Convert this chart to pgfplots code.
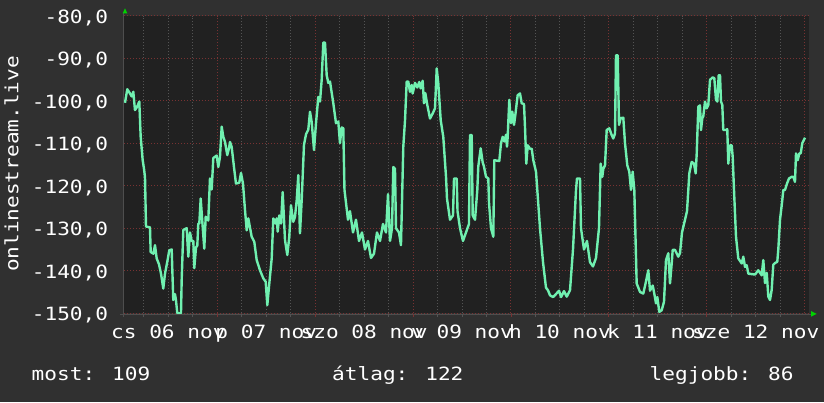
\documentclass[border=0pt]{standalone}
\usepackage{pgfplots}
\pgfplotsset{compat=1.18}
\usepackage{fontspec}
\newfontfamily\rrd[FakeStretch=1.156]{DejaVu Sans Mono}
\newcommand\rrdfont{\rrd\fontsize{18.25pt}{21pt}\selectfont}
\definecolor{bgc}{RGB}{48,48,48}
\definecolor{canvasc}{RGB}{33,33,33}
\definecolor{gridc}{RGB}{84,84,84}
\definecolor{mgridc}{RGB}{120,50,50}
\definecolor{linec}{RGB}{112,240,176}
\definecolor{arrowc}{RGB}{0,210,0}
\definecolor{axisc}{RGB}{78,78,78}

\begin{document}
\begin{tikzpicture}[x=1pt,y=1pt]
\fill[bgc] (0,0) rectangle (824,402);
\begin{axis}[
    at={(124pt,88.8pt)}, anchor=south west,
    scale only axis, width=685.3pt, height=297.5pt,
    xmin=1.13, xmax=169.13, ymin=-150, ymax=-80,
    axis background/.style={fill=canvasc},
    axis line style={draw=none},
    major tick length=0pt, minor tick length=0pt,
    every tick label/.append style={font=\rrdfont, text=white, inner sep=0pt},
    % day labels sit at noon, red lines at midnight
    xtick={12,36,60,84,108,132,156},
    xticklabels={cs 06 nov, p 07 nov, szo 08 nov, v 09 nov, h 10 nov, k 11 nov, sze 12 nov},
    xticklabel style={anchor=base, yshift=-25.1pt},
    minor xtick={6,18,30,42,54,66,78,90,102,114,126,138,150,162},
    extra x ticks={24,48,72,96,120,144,168},
    extra x tick labels={{},{},{},{},{},{},{}},
    extra x tick style={grid=major, major grid style={mgridc}},
    ytick=\empty,
    minor ytick={-148,-146,-144,-142,-138,-136,-134,-132,-128,-126,-124,-122,
                 -118,-116,-114,-112,-108,-106,-104,-102,-98,-96,-94,-92,-88,-86,-84,-82},
    extra y ticks={-150,-140,-130,-120,-110,-100,-90,-80},
    extra y tick labels={{-150,0},{-140,0},{-130,0},{-120,0},{-110,0},{-100,0},{-90,0},{-80,0}},
    extra y tick style={grid=major, major grid style={mgridc}},
    yticklabel style={anchor=base east, xshift=-15.7pt, yshift=-7.6pt},
    grid=both,
    grid style={gridc, line width=1pt, dash pattern=on 1pt off 2pt},
]
\addplot[color=linec, line width=2.4pt, line join=round] coordinates {
(1.37,-100.5)(1.94,-97.3)(2.60,-98.3)(3.02,-99.0)(3.41,-97.9)(3.82,-102.2)(4.31,-101.5)(4.88,-100.2)
(5.22,-108.5)(5.71,-114.0)(6.03,-116)(6.28,-118)(6.52,-129.6)(7.50,-129.8)(7.67,-135.6)(8.31,-136.0)
(8.73,-134.0)(9.14,-137.1)(9.71,-138.5)(10.20,-140.7)(10.76,-144.2)(11.18,-140.7)(11.74,-137.9)
(12.23,-135.2)(12.82,-135.0)(13.21,-146.9)(13.63,-145.5)(13.88,-147)(14.19,-150.0)(15.10,-150.0)
(15.27,-142.2)(15.67,-130.4)(16.50,-130.0)(16.89,-136.7)(17.31,-131)(17.72,-133)(18.12,-133)
(18.36,-139.4)(18.78,-134.5)(19.10,-134.1)(19.34,-128.9)(19.59,-128.9)(19.93,-123.0)(20.42,-129.7)
(20.81,-134.8)(21.16,-127.3)(21.79,-128.2)(22.21,-118.3)(22.63,-120.9)(23.02,-113.5)(23.44,-113.2)
(23.85,-112.9)(24.25,-115.6)(24.66,-113.2)(25.08,-106.1)(25.47,-108.5)(25.89,-109.7)(26.45,-112.8)
(26.87,-111.2)(27.11,-109.7)(27.53,-110.9)(28.09,-115.6)(28.58,-119.5)(29.39,-119.3)(29.81,-117.0)
(30.30,-119.5)(30.79,-125.7)(31.21,-130.5)(31.60,-127.7)(32.43,-132.0)(33.07,-133.2)(33.66,-137.5)
(34.47,-139.9)(35.28,-141.8)(35.87,-142.6)(36.26,-148.1)(36.75,-143.0)(37.34,-137.1)(37.73,-127.7)
(38.32,-128.9)(38.56,-127.7)(38.81,-130.8)(39.20,-127.0)(39.62,-128.9)(40.03,-121.5)(40.60,-132.8)
(41.16,-136.3)(41.65,-132.0)(42.07,-124.6)(42.63,-128.5)(43.05,-127.3)(43.47,-123.4)(43.86,-117.5)
(44.27,-131.2)(44.69,-123.4)(45.01,-116)(45.25,-110.4)(45.75,-107.9)(46.31,-106.8)(46.73,-102.6)
(47.14,-105)(47.71,-111.6)(48.20,-105.3)(48.76,-99.1)(49.18,-100.2)(49.59,-95.1)(49.99,-86.3)
(50.40,-86.3)(50.82,-94.0)(51.21,-95.8)(51.63,-95.5)(52.44,-100.6)(53.10,-105.3)(53.66,-104.9)
(54.08,-110.0)(54.50,-106.3)(54.89,-106.5)(55.18,-121)(55.55,-124)(56.04,-128)(56.53,-126)
(57.27,-131)(58.00,-128)(58.74,-133)(59.47,-131)(60.21,-135)(60.94,-133)(61.68,-137)(62.41,-136)
(63.15,-131)(63.89,-133)(64.62,-129)(65.36,-131)(65.85,-122)(66.34,-133)(66.83,-130)(67.15,-115.6)
(67.56,-116)(67.81,-130)(68.54,-131)(69.03,-134)(69.60,-110.8)(70.02,-104.6)(70.43,-95.5)
(70.82,-95.5)(71.24,-97.9)(71.66,-96.3)(71.90,-98.3)(72.47,-95.8)(73.03,-96.9)(73.52,-95.6)
(73.86,-97.1)(74.35,-95.3)(74.67,-100.6)(74.99,-98.2)(75.48,-101.0)(75.82,-102.6)(76.14,-104.2)
(76.81,-103.0)(77.37,-101.8)(77.79,-92.4)(78.18,-95.9)(78.77,-104.6)(79.40,-108.5)(80.07,-117.9)
(80.31,-123)(81.05,-128)(81.78,-127)(82.03,-118.3)(82.69,-118.3)(82.89,-126)(83.50,-130)
(84.23,-133)(84.97,-131)(85.70,-129)(85.95,-108.1)(86.37,-108.1)(86.61,-127)(87.18,-128)
(87.74,-121)(87.98,-115.5)(88.57,-111.2)(89.06,-114.5)(89.38,-115.5)(89.87,-117.9)(90.44,-118.3)
(90.61,-124)(91.10,-130)(91.66,-132)(91.91,-114.0)(93.13,-114.2)(93.55,-110.0)(93.97,-108.5)
(94.36,-109.6)(94.78,-108.0)(95.02,-110.8)(95.19,-108.5)(95.58,-99.8)(96.00,-105.3)(96.32,-102.6)
(96.74,-105.7)(97.06,-103.4)(97.40,-100.6)(97.64,-98.7)(98.21,-98.3)(98.62,-100.6)(99.19,-100.8)
(99.43,-106.1)(99.75,-114.8)(100.10,-110.5)(100.66,-111.3)(101.08,-111.3)(101.47,-114.0)
(102.13,-116.7)(102.45,-121)(103.11,-130)(103.85,-138)(104.58,-144)(105.07,-144.6)(105.56,-145.8)
(106.30,-146.2)(107.03,-145.5)(107.77,-144.7)(108.26,-146.2)(108.99,-144.8)(109.66,-146.1)
(110.47,-144.6)(111.20,-135)(111.94,-121)(112.18,-118.3)(112.92,-118.3)(113.16,-130)(113.90,-135)
(114.63,-133)(115.37,-138)(116.10,-139)(116.84,-137)(117.57,-130)(117.99,-114.8)(118.38,-117.9)
(118.63,-116)(119.05,-115.2)(119.46,-106.9)(120.10,-106.5)(120.69,-108.1)(121.08,-108.9)
(121.50,-107.7)(121.74,-89.3)(122.16,-89.3)(122.48,-105.7)(122.89,-104.1)(123.53,-104.0)
(123.95,-110.0)(124.51,-115.2)(125.00,-116.7)(125.42,-121)(125.83,-116.7)(126.23,-121)
(126.81,-143.0)(127.63,-145.0)(128.43,-145.4)(129.10,-142.5)(129.66,-139.9)(130.08,-144.7)
(130.74,-143.5)(131.13,-145.4)(131.55,-147.7)(131.87,-146.2)(132.36,-149.7)(132.95,-149.3)
(133.51,-147.3)(134.00,-137.5)(134.56,-135.9)(134.98,-143.0)(135.40,-138.3)(135.64,-135.1)
(136.20,-135.1)(137.01,-136.7)(137.43,-135.9)(137.92,-131)(138.66,-128)(139.15,-126)(139.47,-121)
(139.71,-117.1)(140.30,-114.4)(140.86,-114.8)(141.28,-117.1)(141.53,-112.4)(141.92,-101.4)
(142.33,-101.1)(142.58,-106.9)(142.90,-104.1)(143.14,-103.7)(143.56,-100.2)(143.98,-101.8)
(144.37,-101.0)(144.79,-95.1)(145.45,-94.5)(145.84,-94.7)(146.26,-99.8)(146.58,-100.2)(146.92,-94.0)
(147.24,-94.0)(147.48,-100.2)(147.80,-101.0)(148.04,-106.9)(148.63,-106.9)(149.02,-106.7)
(149.27,-114.8)(149.69,-110.5)(150.11,-110.5)(150.35,-113.2)(150.67,-121)(151.16,-132)
(151.72,-137.1)(152.56,-138.3)(152.95,-136.7)(153.37,-139.1)(153.78,-138.7)(154.18,-140.7)
(155.82,-140.9)(156.63,-139.9)(157.46,-141.1)(157.85,-137.5)(158.27,-142.9)(158.69,-140.5)
(159.08,-146.1)(159.49,-146.9)(159.91,-144.5)(160.30,-138.6)(160.72,-138.2)(161.28,-137.9)
(161.53,-135)(161.95,-128)(162.44,-124)(162.76,-121.0)(163.17,-121)(163.66,-119.5)(164.15,-118.3)
(164.82,-117.9)(165.21,-117.9)(165.62,-119.1)(165.87,-112.4)(166.29,-114.0)(166.68,-112.4)
(167.02,-112.4)(167.41,-110.0)(168.08,-108.7)
};
\end{axis}
% axis lines, tick marks and the green arrow heads
\draw[axisc, line width=1pt] (120,87.5) -- (811,87.5);
\draw[axisc, line width=1pt] (123.5,85) -- (123.5,389);
\foreach \i in {1,...,27} {
  \pgfmathtruncatemacro\m{mod(\i,4)}
  \ifnum\m=0
    \draw[mgridc, line width=1pt] (119.4+24.475*\i,88) -- ++(0,-3);
  \else
    \draw[gridc, line width=1pt] (119.4+24.475*\i,88) -- ++(0,-3);
  \fi
}
\fill[arrowc] (122.7,388.7) -- (127.3,388.7) -- (125,393.7) -- cycle;
\fill[arrowc] (811,91) -- (811,85.3) -- (816.7,88.1) -- cycle;
% axis title and summary line
\node[rotate=90, anchor=base, font=\rrdfont, text=white, inner sep=0pt] at (18.3,238) {onlinestream.live};
\node[anchor=base west, font=\rrdfont, text=white, inner sep=0pt] at (31.5,22) {most: 109};
\node[anchor=base west, font=\rrdfont, text=white, inner sep=0pt] at (332,22) {átlag: 122};
\node[anchor=base west, font=\rrdfont, text=white, inner sep=0pt] at (649.5,22) {legjobb: 86};
\pgfresetboundingbox
\useasboundingbox (0,0) rectangle (824,402);
\end{tikzpicture}
\end{document}
